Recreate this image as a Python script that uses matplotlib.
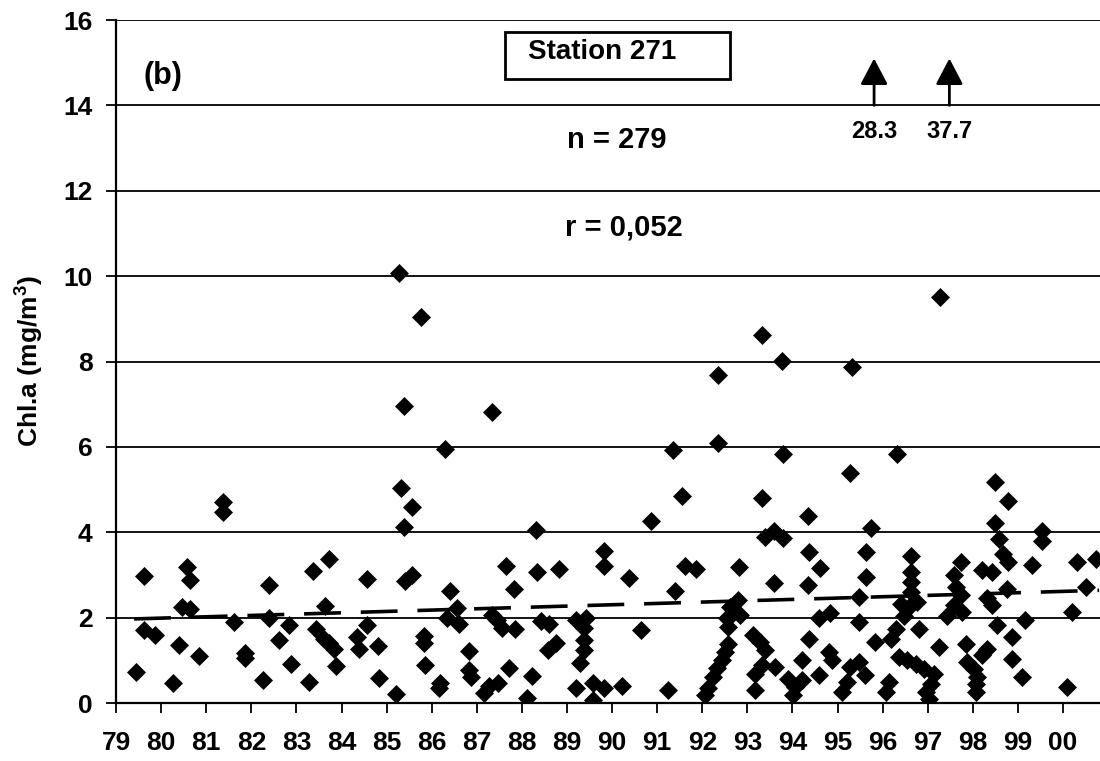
import matplotlib
matplotlib.use('Agg')
import matplotlib.pyplot as plt
from matplotlib.patches import Rectangle

plt.rcParams['font.family'] = ['Liberation Sans', 'DejaVu Sans']
plt.rcParams['font.weight'] = 'bold'
plt.rcParams['axes.labelweight'] = 'bold'
plt.rcParams['mathtext.fontset'] = 'custom'
plt.rcParams['mathtext.rm'] = 'Liberation Sans:bold'
plt.rcParams['mathtext.it'] = 'Liberation Sans:bold:italic'

# sampling dates (decimal year, 79 = 1979) and chlorophyll a (mg/m3)
years = [
    79.63, 79.44, 79.61, 79.87, 80.26, 80.39, 80.57, 80.63, 80.46, 80.64,
    80.85, 81.37, 81.37, 81.61, 81.87, 81.85, 82.25, 82.39, 82.40, 82.61,
    82.83, 82.88, 83.27, 83.37, 83.72, 83.64, 83.44, 83.61, 83.72, 83.84,
    83.87, 84.35, 84.39, 84.57, 84.57,
    85.28, 85.77, 85.39, 87.34, 86.29, 85.33, 85.56, 85.39, 88.31, 85.41,
    85.57, 86.41, 87.64, 87.82, 88.34, 88.83, 89.81, 89.83, 84.81, 84.83,
    85.20, 85.82, 85.84, 85.85, 86.17, 86.19, 86.56, 86.34, 86.61, 86.82,
    86.82, 86.87, 87.15, 87.27, 87.47, 87.34, 87.45, 87.56, 87.85, 87.71,
    88.42, 88.60, 88.23, 88.12, 88.57, 88.75, 89.20, 89.42, 89.38, 89.38,
    89.38, 89.29, 89.20, 89.58, 89.58, 89.83,
    93.32, 93.76, 95.32, 92.34, 92.34, 91.36, 93.80, 95.28, 91.54, 93.32,
    90.86, 94.34, 93.39, 93.60, 93.80, 94.36, 94.61, 90.37, 91.61, 91.85,
    92.82, 93.58, 94.34, 91.39, 92.80, 90.65, 90.21, 91.24,
    92.06, 92.13, 92.24, 92.32, 92.43, 92.50, 92.58, 92.56, 92.54, 92.69,
    92.84, 92.62, 93.13, 93.28, 93.39, 93.61, 93.32, 93.17, 93.17, 93.91,
    94.06, 94.21, 94.02, 94.21, 94.36, 94.58, 94.84, 94.80, 94.87, 94.58,
    95.10, 95.21, 95.28, 95.47, 95.47, 95.47,
    97.27, 96.32, 98.50, 98.79, 95.74, 98.50, 98.57, 99.53, 99.53, 95.63,
    95.63, 96.63, 96.63, 96.63, 96.63, 96.63, 96.77, 96.40, 96.48, 97.73,
    97.58, 97.62, 97.73, 97.58, 97.76, 97.43, 98.68, 98.79, 98.21, 98.43,
    98.75, 98.32, 98.43, 99.31, 100.30, 100.74, 100.52, 100.19, 95.82, 96.18,
    96.29, 96.81, 97.25, 97.84, 98.54, 98.87, 99.16, 98.87, 99.10, 100.08,
    95.60, 96.37, 96.55, 96.74, 96.92, 97.14, 97.07, 96.96, 97.03, 96.15,
    96.07, 97.88, 98.02, 98.21, 98.32, 98.10, 98.06, 98.06,
]
chl = [
    2.97, 0.73, 1.70, 1.59, 0.47, 1.35, 3.19, 2.88, 2.25, 2.21,
    1.09, 4.71, 4.48, 1.90, 1.16, 1.05, 0.53, 2.76, 1.98, 1.48,
    1.82, 0.91, 0.49, 3.09, 3.38, 2.27, 1.74, 1.51, 1.40, 1.27,
    0.86, 1.55, 1.27, 2.91, 1.82,
    10.08, 9.05, 6.95, 6.81, 5.94, 5.04, 4.59, 4.12, 4.06, 2.85,
    3.01, 2.62, 3.22, 2.67, 3.06, 3.14, 3.55, 3.22, 1.34, 0.59,
    0.20, 1.56, 1.41, 0.88, 0.35, 0.47, 2.23, 1.99, 1.84, 1.21,
    0.78, 0.62, 0.23, 0.39, 0.47, 2.07, 1.95, 1.76, 1.73, 0.82,
    1.91, 1.84, 0.63, 0.12, 1.25, 1.41, 1.95, 1.99, 1.76, 1.48,
    1.25, 0.94, 0.35, 0.47, 0.08, 0.35,
    8.61, 8.02, 7.86, 7.68, 6.09, 5.92, 5.84, 5.38, 4.84, 4.81,
    4.27, 4.37, 3.90, 4.03, 3.87, 3.54, 3.17, 2.94, 3.22, 3.15,
    3.19, 2.82, 2.76, 2.62, 2.41, 1.71, 0.39, 0.30,
    0.18, 0.34, 0.61, 0.81, 1.00, 1.20, 1.39, 1.78, 1.98, 2.10,
    2.06, 2.25, 1.59, 1.43, 1.24, 0.85, 0.88, 0.67, 0.30, 0.57,
    0.38, 0.53, 0.18, 1.00, 1.51, 1.98, 2.10, 1.20, 1.00, 0.65,
    0.26, 0.49, 0.85, 0.96, 1.90, 2.49,
    9.52, 5.83, 5.18, 4.73, 4.10, 4.22, 3.85, 4.02, 3.79, 3.54,
    2.95, 3.44, 3.07, 2.84, 2.60, 2.29, 2.37, 2.33, 2.05, 3.30,
    2.99, 2.72, 2.52, 2.29, 2.13, 2.05, 3.50, 3.30, 3.11, 3.07,
    2.68, 2.45, 2.29, 3.23, 3.30, 3.38, 2.72, 2.13, 1.43, 1.51,
    1.74, 1.74, 1.31, 1.39, 1.82, 1.55, 1.94, 1.04, 0.61, 0.38,
    0.65, 1.08, 1.00, 0.92, 0.80, 0.69, 0.45, 0.26, 0.10, 0.49,
    0.26, 0.96, 0.80, 1.12, 1.27, 0.61, 0.45, 0.26,
]

# linear trend
trend_years = [79.4, 100.8]
trend_chl = [1.97, 2.64]

# off-scale values shown with arrows
offscale_years = [95.81, 97.48]
offscale_labels = ['28.3', '37.7']

year_ticks = list(range(79, 101))
year_labels = ['%02d' % (y % 100) for y in year_ticks]

fig = plt.figure(figsize=(11, 7.61), dpi=100)
ax = fig.add_axes([0.1055, 0.0762, 0.8945, 0.8975])

ax.plot(years, chl, linestyle='none', marker='D', markersize=9.4,
        color='black', markeredgewidth=0.5)
ax.plot(trend_years, trend_chl, color='black', linewidth=2.6,
        dashes=(10.2, 5.5))

ax.set_xlim(79, 100.82)
ax.set_ylim(0, 16)
ax.set_yticks(range(0, 17, 2))
ax.set_xticks(year_ticks)
ax.set_xticklabels(year_labels)
ax.yaxis.grid(True, color='black', linewidth=1.3)
ax.set_axisbelow(True)

for side in ['top', 'right']:
    ax.spines[side].set_visible(False)
for side in ['left', 'bottom']:
    ax.spines[side].set_linewidth(1.6)

ax.tick_params(axis='y', direction='out', length=7, width=1.3,
               labelsize=19, pad=10)
ax.tick_params(axis='x', direction='out', length=7, width=1.3,
               labelsize=19, pad=13)
ax.set_ylabel('Chl.a (mg/m$^3$)', fontsize=19)
ax.yaxis.set_label_coords(-0.071, 0.5)

ax.text(80.04, 14.68, '(b)', fontsize=22, ha='center', va='center')

ax.add_patch(Rectangle((0.395, 0.914), 0.229, 0.068, transform=ax.transAxes,
                       fill=False, edgecolor='black', linewidth=2.0,
                       clip_on=False))
ax.text(0.494, 0.953, 'Station 271', transform=ax.transAxes,
        fontsize=20, ha='center', va='center')

ax.text(89.0, 13.2, 'n = 279', fontsize=21, ha='left', va='center')
ax.text(88.95, 11.13, 'r = 0,052', fontsize=21, ha='left', va='center')

for x, lab in zip(offscale_years, offscale_labels):
    ax.annotate('', xy=(x, 15.1), xytext=(x, 14.0),
                arrowprops=dict(arrowstyle='-|>,head_width=0.42,head_length=0.8',
                                mutation_scale=20, color='black', lw=2,
                                shrinkA=0, shrinkB=0))
    ax.text(x, 13.38, lab, fontsize=17, ha='center', va='center')

fig.savefig('out.png', dpi=100)
